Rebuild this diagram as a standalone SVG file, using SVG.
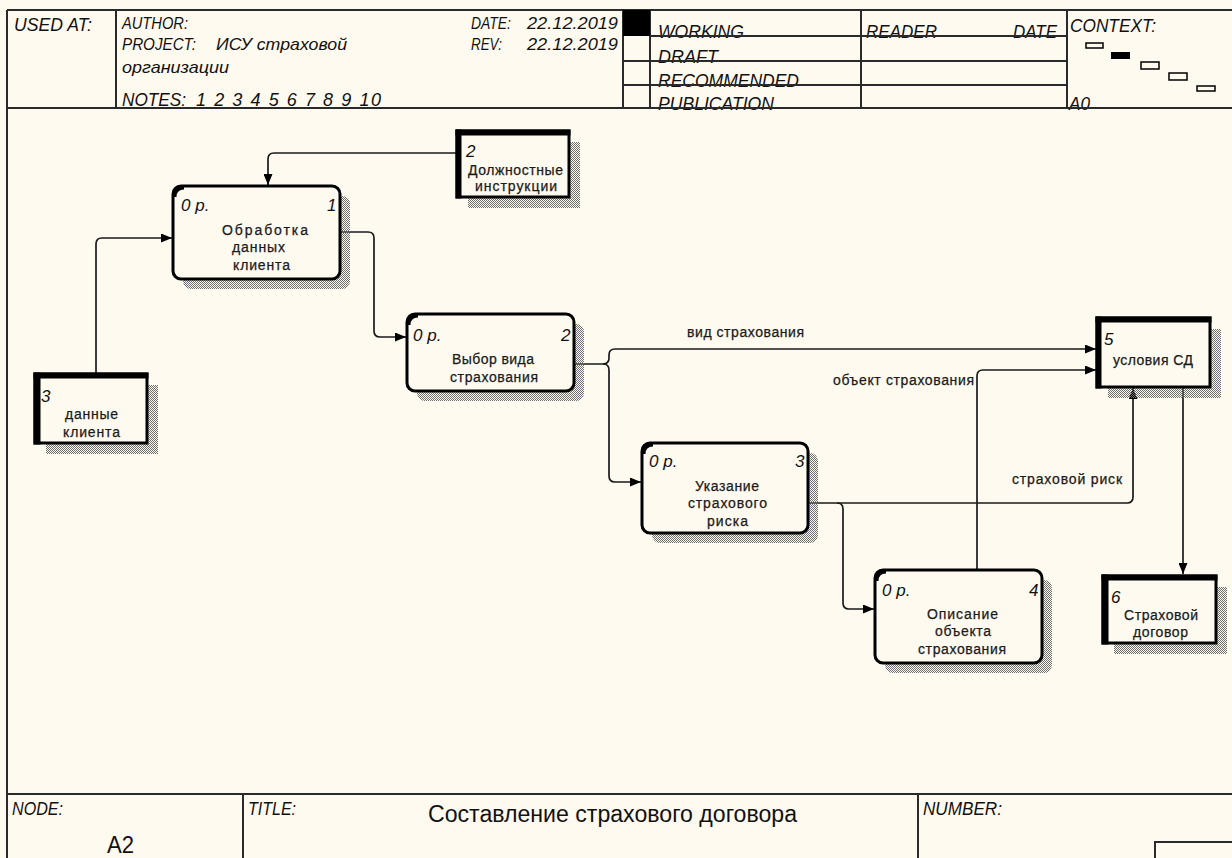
<svg xmlns="http://www.w3.org/2000/svg" width="1232" height="858" viewBox="0 0 1232 858">
<style>
.bg{fill:#FFFAF0}
.frame{stroke:#2a2a2a;stroke-width:2;fill:none}
.hdr{font-family:"Liberation Sans",Arial,sans-serif;font-style:italic;font-size:18px;fill:#111}
.hdr2{font-family:"Liberation Sans",Arial,sans-serif;font-style:italic;font-size:16.5px;fill:#111}
.ftr{font-family:"Liberation Sans",Arial,sans-serif;font-style:italic;font-size:18px;fill:#111}
.ttl{font-family:"Liberation Sans",Arial,sans-serif;font-size:23px;fill:#111}
.act{fill:#FFFAF0;stroke:#000;stroke-width:3}
.ref{fill:#FFFAF0;stroke:#000;stroke-width:3}
.band{fill:#000}
.shadow{fill:url(#hatch)}
.num{font-family:"Liberation Sans",Arial,sans-serif;font-style:italic;font-size:17px;fill:#111}
.lbl{font-family:"Liberation Sans",Arial,sans-serif;font-size:14px;fill:#1a1a1a;stroke:#1a1a1a;stroke-width:0.25}
.con{fill:none;stroke:#1a1a1a;stroke-width:1.7}
.ctx{fill:#FFFAF0;stroke:#000;stroke-width:1.5}
</style>
<defs>
<pattern id="hatch" width="2" height="2" patternUnits="userSpaceOnUse">
<rect width="1" height="1" fill="#6e6e6e"/>
<rect x="1" y="1" width="1" height="1" fill="#6e6e6e"/>
</pattern>
<marker id="arr" markerWidth="11" markerHeight="9" refX="11" refY="4.5" orient="auto" markerUnits="userSpaceOnUse">
<path d="M0,0 L11,4.5 L0,9 z" fill="#000"/>
</marker>
</defs>
<rect class="bg" x="0" y="0" width="1232" height="858"/>

<g id="frame">
<line class="frame" x1="7" y1="10" x2="1232" y2="10"/>
<line class="frame" x1="7" y1="10" x2="7" y2="858"/>
<line class="frame" x1="116" y1="10" x2="116" y2="108"/>
<line class="frame" x1="623" y1="10" x2="623" y2="108"/>
<line class="frame" x1="650" y1="10" x2="650" y2="108"/>
<line class="frame" x1="861" y1="10" x2="861" y2="108"/>
<line class="frame" x1="1067" y1="10" x2="1067" y2="108"/>
<rect x="623" y="10" width="27" height="26" fill="#000"/>
<rect class="ctx" x="1086" y="43" width="17" height="5"/>
<rect x="1111" y="52" width="19" height="7" fill="#000"/>
<rect class="ctx" x="1141" y="62" width="18" height="7"/>
<rect class="ctx" x="1169" y="73" width="18" height="7"/>
<rect class="ctx" x="1197" y="86" width="18" height="5"/>
<line class="frame" x1="7" y1="794" x2="1232" y2="794"/>
<line class="frame" x1="243" y1="794" x2="243" y2="858"/>
<line class="frame" x1="918" y1="794" x2="918" y2="858"/>
<polyline class="frame" points="1155,858 1155,842 1232,842"/>
</g>

<g id="header-text">
<text class="hdr" x="14" y="31" textLength="78" lengthAdjust="spacingAndGlyphs">USED AT:</text>
<text class="hdr2" x="122" y="29" textLength="66" lengthAdjust="spacingAndGlyphs">AUTHOR:</text>
<text class="hdr2" x="122" y="50" textLength="74" lengthAdjust="spacingAndGlyphs">PROJECT:</text>
<text class="hdr2" x="216" y="50" textLength="131" lengthAdjust="spacingAndGlyphs">ИСУ страховой</text>
<text class="hdr2" x="122" y="73" textLength="107" lengthAdjust="spacingAndGlyphs">организации</text>
<text class="hdr" x="122" y="106" textLength="64" lengthAdjust="spacingAndGlyphs">NOTES:</text>
<text class="hdr" x="196" y="106" textLength="185" lengthAdjust="spacing">1 2 3 4 5 6 7 8 9 10</text>
<text class="hdr2" x="471" y="29" textLength="40" lengthAdjust="spacingAndGlyphs">DATE:</text>
<text class="hdr2" x="527" y="29" textLength="91" lengthAdjust="spacingAndGlyphs">22.12.2019</text>
<text class="hdr2" x="471" y="50" textLength="31" lengthAdjust="spacingAndGlyphs">REV:</text>
<text class="hdr2" x="527" y="50" textLength="91" lengthAdjust="spacingAndGlyphs">22.12.2019</text>
<text class="hdr" x="658" y="38" textLength="86" lengthAdjust="spacingAndGlyphs">WORKING</text>
<text class="hdr" x="658" y="63" textLength="60" lengthAdjust="spacingAndGlyphs">DRAFT</text>
<text class="hdr" x="658" y="87" textLength="141" lengthAdjust="spacingAndGlyphs">RECOMMENDED</text>
<text class="hdr" x="658" y="110" textLength="116" lengthAdjust="spacingAndGlyphs">PUBLICATION</text>
<text class="hdr" x="866" y="38" textLength="71" lengthAdjust="spacingAndGlyphs">READER</text>
<text class="hdr" x="1013" y="38" textLength="44" lengthAdjust="spacingAndGlyphs">DATE</text>
<text class="hdr" x="1070" y="32" textLength="86" lengthAdjust="spacingAndGlyphs">CONTEXT:</text>
<text class="hdr" x="1069" y="110" textLength="21" lengthAdjust="spacingAndGlyphs">A0</text>
</g>
<g id="header-lines-over">
<line class="frame" x1="650" y1="36" x2="1067" y2="36"/>
<line class="frame" x1="623" y1="61" x2="1067" y2="61"/>
<line class="frame" x1="623" y1="85" x2="1067" y2="85"/>
<line class="frame" x1="7" y1="108" x2="1232" y2="108"/>
</g>

<g id="footer-text">
<text class="ftr" x="12" y="815" textLength="51" lengthAdjust="spacingAndGlyphs">NODE:</text>
<text class="ttl" x="107" y="853" textLength="27" lengthAdjust="spacingAndGlyphs">A2</text>
<text class="ftr" x="248" y="815" textLength="48" lengthAdjust="spacingAndGlyphs">TITLE:</text>
<text class="ttl" x="428" y="822" textLength="369" lengthAdjust="spacingAndGlyphs">Составление страхового  договора</text>
<text class="ftr" x="923" y="815" textLength="79" lengthAdjust="spacingAndGlyphs">NUMBER:</text>
</g>

<g id="connectors">
<path class="con" d="M457,153 H274 Q268,153 268,159 V185" marker-end="url(#arr)"/>
<path class="con" d="M96,374 V244 Q96,238 102,238 H172" marker-end="url(#arr)"/>
<path class="con" d="M340,232 H368 Q374,232 374,238 V331 Q374,337 380,337 H406" marker-end="url(#arr)"/>
<path class="con" d="M574,364 H603 Q609,364 609,358 V355 Q609,349 615,349 H1096" marker-end="url(#arr)"/>
<path class="con" d="M603,364 Q609,364 609,370 V476 Q609,482 615,482 H641" marker-end="url(#arr)"/>
<path class="con" d="M808,503 H1127 Q1133,503 1133,497 V388" marker-end="url(#arr)"/>
<path class="con" d="M837,503 Q843,503 843,509 V603 Q843,609 849,609 H874" marker-end="url(#arr)"/>
<path class="con" d="M977,570 V376 Q977,370 983,370 H1096" marker-end="url(#arr)"/>
<path class="con" d="M1183,387 V574" marker-end="url(#arr)"/>
<text class="lbl" x="687" y="337" textLength="117" lengthAdjust="spacing">вид страхования</text>
<text class="lbl" x="833" y="385" textLength="141" lengthAdjust="spacing">объект страхования</text>
<text class="lbl" x="1012" y="484" textLength="110" lengthAdjust="spacing">страховой риск</text>
</g>

<g id="node-a1">
<rect class="shadow" x="183" y="196" width="167" height="93" rx="8"/>
<rect class="act" x="173" y="186" width="167" height="93" rx="8"/>
<path d="M174.5,197 Q174.5,187.5 184,187.5" fill="none" stroke="#000" stroke-width="4"/>
<text class="num" x="181" y="211">0 p.</text>
<text class="num" x="327" y="211">1</text>
<text class="lbl" x="222" y="235" textLength="86" lengthAdjust="spacing">Обработка</text>
<text class="lbl" x="232" y="252" textLength="53" lengthAdjust="spacing">данных</text>
<text class="lbl" x="233" y="270" textLength="57" lengthAdjust="spacing">клиента</text>
</g>

<g id="node-a2">
<rect class="shadow" x="417" y="324" width="167" height="77" rx="8"/>
<rect class="act" x="407" y="314" width="167" height="77" rx="8"/>
<path d="M408.5,325 Q408.5,315.5 418,315.5" fill="none" stroke="#000" stroke-width="4"/>
<text class="num" x="413" y="341">0 p.</text>
<text class="num" x="561" y="341">2</text>
<text class="lbl" x="452" y="364" textLength="82" lengthAdjust="spacing">Выбор вида</text>
<text class="lbl" x="450" y="382" textLength="88" lengthAdjust="spacing">страхования</text>
</g>

<g id="node-a3">
<rect class="shadow" x="652" y="453" width="166" height="90" rx="8"/>
<rect class="act" x="642" y="443" width="166" height="90" rx="8"/>
<path d="M643.5,454 Q643.5,444.5 653,444.5" fill="none" stroke="#000" stroke-width="4"/>
<text class="num" x="649" y="467">0 p.</text>
<text class="num" x="795" y="467">3</text>
<text class="lbl" x="695" y="491" textLength="64" lengthAdjust="spacing">Указание</text>
<text class="lbl" x="688" y="508" textLength="79" lengthAdjust="spacing">страхового</text>
<text class="lbl" x="707" y="526" textLength="41" lengthAdjust="spacing">риска</text>
</g>

<g id="node-a4">
<rect class="shadow" x="885" y="580" width="167" height="93" rx="8"/>
<rect class="act" x="875" y="570" width="167" height="93" rx="8"/>
<path d="M876.5,581 Q876.5,571.5 886,571.5" fill="none" stroke="#000" stroke-width="4"/>
<text class="num" x="882" y="596">0 p.</text>
<text class="num" x="1029" y="596">4</text>
<text class="lbl" x="927" y="619" textLength="71" lengthAdjust="spacing">Описание</text>
<text class="lbl" x="935" y="636" textLength="56" lengthAdjust="spacing">объекта</text>
<text class="lbl" x="918" y="654" textLength="88" lengthAdjust="spacing">страхования</text>
</g>

<g id="node-ref2">
<rect class="shadow" x="468" y="142" width="112" height="66"/>
<rect class="ref" x="457" y="131" width="112" height="66"/>
<rect class="band" x="455.5" y="129.5" width="115" height="6"/>
<rect class="band" x="455.5" y="129.5" width="6" height="69"/>
<text class="num" x="466" y="157">2</text>
<text class="lbl" x="468" y="175" textLength="95" lengthAdjust="spacing">Должностные</text>
<text class="lbl" x="475" y="191" textLength="82" lengthAdjust="spacing">инструкции</text>
</g>

<g id="node-ref3">
<rect class="shadow" x="46" y="385" width="112" height="69"/>
<rect class="ref" x="35" y="374" width="112" height="69"/>
<rect class="band" x="33.5" y="372.5" width="115" height="6"/>
<rect class="band" x="33.5" y="372.5" width="7" height="72"/>
<text class="num" x="41" y="402">3</text>
<text class="lbl" x="65" y="419" textLength="53" lengthAdjust="spacing">данные</text>
<text class="lbl" x="63" y="437" textLength="57" lengthAdjust="spacing">клиента</text>
</g>

<g id="node-ref5">
<rect class="shadow" x="1108" y="329" width="113" height="69"/>
<rect class="ref" x="1097" y="318" width="113" height="69"/>
<rect class="band" x="1095.5" y="316.5" width="116" height="6"/>
<rect class="band" x="1095.5" y="316.5" width="6" height="72"/>
<text class="num" x="1104" y="345">5</text>
<text class="lbl" x="1113" y="365" textLength="80" lengthAdjust="spacing">условия СД</text>
</g>

<g id="node-ref6">
<rect class="shadow" x="1114" y="587" width="113" height="67"/>
<rect class="ref" x="1103" y="576" width="113" height="67"/>
<rect class="band" x="1101.5" y="574.5" width="116" height="6"/>
<rect class="band" x="1101.5" y="574.5" width="7" height="70"/>
<text class="num" x="1111" y="603">6</text>
<text class="lbl" x="1124" y="620" textLength="74" lengthAdjust="spacing">Страховой</text>
<text class="lbl" x="1133" y="637" textLength="55" lengthAdjust="spacing">договор</text>
</g>
</svg>
